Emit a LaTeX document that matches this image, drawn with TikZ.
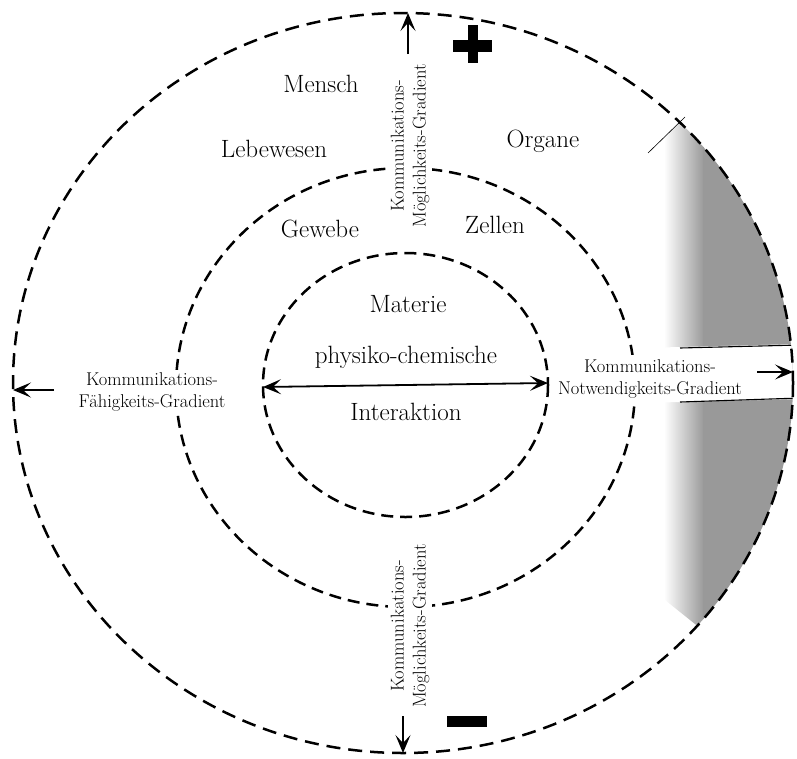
\documentclass[tikz,border=0pt]{standalone}
\usetikzlibrary{arrows.meta}
\begin{document}
\begin{tikzpicture}[x=1pt,y=-1pt,
  ring/.style={line width=2.5pt, dash pattern=on 12pt off 7pt},
  bigtext/.style={font=\fontsize{25}{30}\selectfont, inner sep=0pt, anchor=base},
  smalltext/.style={font=\fontsize{18.5}{22}\selectfont, inner sep=3pt, align=center, fill=white},
  arr/.style={line width=1.8pt, -{Stealth[length=18pt,width=15pt,inset=8pt]}},
  darr/.style={line width=1.8pt, {Stealth[length=18pt,width=15pt,inset=8pt]}-{Stealth[length=18pt,width=15pt,inset=8pt]}},
  graytone/.style={black!40}]
\useasboundingbox (0,0) rectangle (797,758);
% shading on the right
\begin{scope}
  \clip (403,383) ellipse [x radius=390, y radius=370];
  \clip (648,153) -- (685,117) -- (800,5) -- (800,660) -- (740,660) -- (640,580) -- cycle;
  \shade[left color=white, right color=black!40] (664,100) rectangle (704,660);
  \fill[graytone] (703,100) rectangle (800,660);
  \fill[white] (640,348) -- (800,344) -- (800,399) -- (640,403) -- cycle;
  \draw[line width=1.1pt] (680,348) -- (800,345);
  \draw[line width=1.1pt] (680,402) -- (800,398);
\end{scope}
\draw[line width=0.6pt] (648,153) -- (685,117);
% rings
\draw[ring, dash pattern=on 14pt off 8pt] (403,383) ellipse [x radius=390, y radius=370];
\draw[ring] (405.5,387.5) ellipse [x radius=229.5, y radius=219.5];
\draw[ring] (405.5,385) ellipse [x radius=142.5, y radius=132];
% labels
\node[bigtext] (mensch) at (321,92) {Mensch};
\node[bigtext] (lebewesen) at (274,157) {Lebewesen};
\node[bigtext] (organe) at (543,147) {Organe};
\node[bigtext] (gewebe) at (320,237) {Gewebe};
\node[bigtext] (zellen) at (495,233) {Zellen};
\node[bigtext] (materie) at (408,312) {Materie};
\node[bigtext] (physiko) at (406,363) {physiko-chemische};
\node[bigtext] (interaktion) at (406,420) {Interaktion};
% gradient labels
\node[smalltext, rotate=90] (topgrad) at (410,146) {Kommunikations-\\Möglichkeits-Gradient};
\node[smalltext, rotate=90] (botgrad) at (410,626) {Kommunikations-\\Möglichkeits-Gradient};
\node[smalltext] (leftgrad) at (152,392) {Kommunikations-\\Fähigkeits-Gradient};
\fill[white] (620,355) rectangle (645,405);
\node[smalltext, fill=none] (rightgrad) at (650,379) {Kommunikations-\\Notwendigkeits-Gradient};
% arrows
\coordinate (innerL) at (263,387);
\coordinate (innerR) at (548,383);
\draw[darr] (innerL) -- (innerR);
\coordinate (topS) at (408,54);
\coordinate (topE) at (408,13);
\draw[arr] (topS) -- (topE);
\coordinate (botS) at (403,716);
\coordinate (botE) at (403,753);
\draw[arr] (botS) -- (botE);
\coordinate (leftS) at (54,390);
\coordinate (leftE) at (13,390);
\draw[arr] (leftS) -- (leftE);
\coordinate (rightS) at (757,372);
\coordinate (rightE) at (793,372);
\draw[arr] (rightS) -- (rightE);
% plus and minus
\fill (468,25) rectangle (478,63);
\fill (453,40) rectangle (492,52);
\fill (447,716) rectangle (487,727);
\end{tikzpicture}
\end{document}
